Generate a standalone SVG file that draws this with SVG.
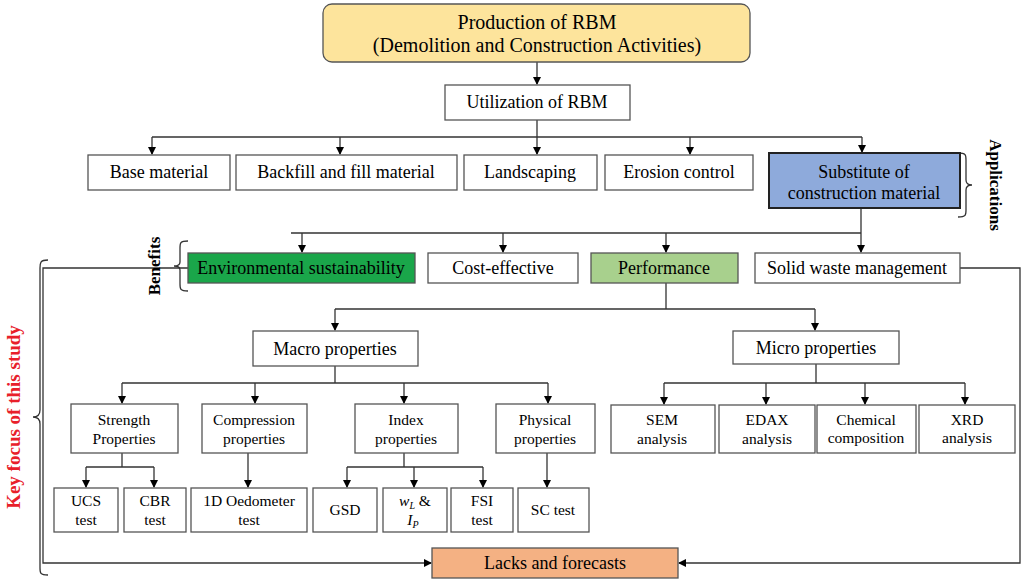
<svg xmlns="http://www.w3.org/2000/svg" width="1024" height="580" viewBox="0 0 1024 580" font-family="'Liberation Serif', 'Times New Roman', serif">
<defs><marker id="a" markerWidth="8" markerHeight="8" refX="7" refY="4" orient="auto" markerUnits="userSpaceOnUse"><path d="M0,0 L8,4 L0,8 z" fill="#000"/></marker></defs>
<style>
rect{fill:#fff;stroke:#555;stroke-width:1.3}
text{font-family:'Liberation Serif','Times New Roman',serif;fill:#000;text-anchor:middle}
.t{font-family:'Liberation Serif',serif;font-size:18px}.s{font-family:'Liberation Serif',serif;font-size:15.5px}
#conn path{fill:none;stroke:#333;stroke-width:1.3}
.ar{marker-end:url(#a)}
</style>
<rect width="1024" height="580" style="fill:#fff;stroke:none"/>
<g id="conn">
<path class="ar" d="M537,62V84"/>
<path d="M537,120V137M152,137H862"/>
<path class="ar" d="M152,137V154"/><path class="ar" d="M340,137V154"/><path class="ar" d="M537,137V154"/><path class="ar" d="M690,137V154"/><path class="ar" d="M862,137V152"/>
<path d="M861,208V233M291,233H861"/>
<path class="ar" d="M302,233V252"/><path class="ar" d="M503,233V252"/><path class="ar" d="M666,233V252"/><path class="ar" d="M861,233V252"/>
<path class="ar" d="M188,268H43V563H431"/>
<path class="ar" d="M960,268H1020V563H679"/>
<path d="M666,283V309M335,309H815"/>
<path class="ar" d="M335,309V330"/><path class="ar" d="M815,309V330"/>
<path d="M335,366V383M122,383H548"/>
<path class="ar" d="M122,383V403"/><path class="ar" d="M255,383V403"/><path class="ar" d="M404,383V403"/><path class="ar" d="M548,383V403"/>
<path d="M816,364V383M664,383H965"/>
<path class="ar" d="M664,383V404"/><path class="ar" d="M766,383V404"/><path class="ar" d="M865,383V404"/><path class="ar" d="M965,383V404"/>
<path d="M122,453V467M86,467H154"/>
<path class="ar" d="M86,467V487"/><path class="ar" d="M154,467V487"/>
<path class="ar" d="M248,453V487"/>
<path d="M404,453V467M347,467H483"/>
<path class="ar" d="M347,467V487"/><path class="ar" d="M414,467V487"/><path class="ar" d="M483,467V487"/>
<path class="ar" d="M547,453V487"/>
<path d="M958,153C966,153 966,155 966,160V180C966,184 968,185 972,185C968,185 966,186 966,190V210C966,215 966,217 958,217"/>
<path d="M188,241C180,241 180,243 180,248V262C180,265 178,266 174,266C178,266 180,267 180,270V284C180,289 180,291 188,291"/>
<path d="M48,260C40,260 40,263 40,268V410C40,415 38,417 33,417C38,417 40,419 40,424V568C40,573 40,575 48,575"/>
</g>
<g id="n0"><rect x="323" y="4" width="427" height="58" rx="9" style="fill:#fde49c"/><text class="t" x="537" y="29" style="font-size:20px">Production of RBM</text><text class="t" x="537" y="52" style="font-size:20px">(Demolition and Construction Activities)</text></g>
<g id="n1"><rect x="445" y="85" width="185" height="35"/><text class="t" x="537" y="108">Utilization of RBM</text></g>
<g id="n2"><rect x="88" y="155" width="142" height="35"/><text class="t" x="159" y="178">Base material</text></g>
<g id="n3"><rect x="236" y="155" width="221" height="35"/><text class="t" x="346" y="178">Backfill and fill material</text></g>
<g id="n4"><rect x="464" y="155" width="133" height="35"/><text class="t" x="530" y="178">Landscaping</text></g>
<g id="n5"><rect x="605" y="155" width="148" height="35"/><text class="t" x="679" y="178">Erosion control</text></g>
<g id="n6"><rect x="769" y="153" width="191" height="55" style="fill:#8eaadb;stroke:#222;stroke-width:2"/><text class="t" x="864" y="178">Substitute of</text><text class="t" x="864" y="199">construction material</text></g>
<g id="n7"><rect x="188" y="253" width="227" height="30" style="fill:#1aa64a"/><text class="t" x="301" y="274">Environmental sustainability</text></g>
<g id="n8"><rect x="428" y="253" width="150" height="30"/><text class="t" x="503" y="274">Cost-effective</text></g>
<g id="n9"><rect x="591" y="253" width="147" height="30" style="fill:#a8d08d"/><text class="t" x="664" y="274">Performance</text></g>
<g id="n10"><rect x="755" y="253" width="205" height="30"/><text class="t" x="857" y="274">Solid waste management</text></g>
<g id="n11"><rect x="253" y="331" width="165" height="35"/><text class="t" x="335" y="355">Macro properties</text></g>
<g id="n12"><rect x="733" y="331" width="166" height="33"/><text class="t" x="816" y="354">Micro properties</text></g>
<g id="n13"><rect x="71" y="404" width="107" height="49"/><text class="s" x="124" y="425">Strength</text><text class="s" x="124" y="444">Properties</text></g>
<g id="n14"><rect x="202" y="404" width="105" height="49"/><text class="s" x="254" y="425">Compression</text><text class="s" x="254" y="444">properties</text></g>
<g id="n15"><rect x="355" y="404" width="103" height="49"/><text class="s" x="406" y="425">Index</text><text class="s" x="406" y="444">properties</text></g>
<g id="n16"><rect x="496" y="404" width="99" height="49"/><text class="s" x="545" y="425">Physical</text><text class="s" x="545" y="444">properties</text></g>
<g id="n17"><rect x="611" y="405" width="104" height="48"/><text class="s" x="662" y="425">SEM</text><text class="s" x="662" y="444">analysis</text></g>
<g id="n18"><rect x="719" y="405" width="96" height="48"/><text class="s" x="767" y="425">EDAX</text><text class="s" x="767" y="444">analysis</text></g>
<g id="n19"><rect x="817" y="405" width="99" height="48"/><text class="s" x="866" y="425">Chemical</text><text class="s" x="866" y="443">composition</text></g>
<g id="n20"><rect x="919" y="405" width="96" height="48"/><text class="s" x="967" y="425">XRD</text><text class="s" x="967" y="443">analysis</text></g>
<g id="n21"><rect x="54" y="488" width="64" height="44"/><text class="s" x="86" y="506">UCS</text><text class="s" x="86" y="525">test</text></g>
<g id="n22"><rect x="124" y="488" width="62" height="44"/><text class="s" x="155" y="506">CBR</text><text class="s" x="155" y="525">test</text></g>
<g id="n23"><rect x="191" y="488" width="116" height="44"/><text class="s" x="249" y="506">1D Oedometer</text><text class="s" x="249" y="525">test</text></g>
<g id="n24"><rect x="313" y="488" width="64" height="44"/><text class="s" x="345" y="515">GSD</text></g>
<g id="n25"><rect x="383" y="488" width="64" height="44"/><text class="s" x="415" y="506"><tspan font-style="italic">w</tspan><tspan font-style="italic" font-size="10" dy="3">L</tspan><tspan dy="-3"> &amp;</tspan></text><text class="s" x="413" y="525"><tspan font-style="italic">I</tspan><tspan font-style="italic" font-size="10" dy="3">P</tspan></text></g>
<g id="n26"><rect x="451" y="488" width="62" height="44"/><text class="s" x="482" y="506">FSI</text><text class="s" x="482" y="525">test</text></g>
<g id="n27"><rect x="518" y="488" width="71" height="44"/><text class="s" x="553" y="515">SC test</text></g>
<g id="n28"><rect x="432" y="548" width="246" height="30" style="fill:#f4b183"/><text class="t" x="555" y="569">Lacks and forecasts</text></g>
<text x="0" y="0" transform="translate(990,185) rotate(90)" style="font-size:17px;font-weight:bold">Applications</text>
<text x="0" y="0" transform="translate(160,266) rotate(-90)" style="font-size:17px;font-weight:bold">Benefits</text>
<text x="0" y="0" transform="translate(20,417) rotate(-90)" style="font-size:19px;font-weight:bold;fill:#e8202a">Key focus of this study</text>
</svg>
